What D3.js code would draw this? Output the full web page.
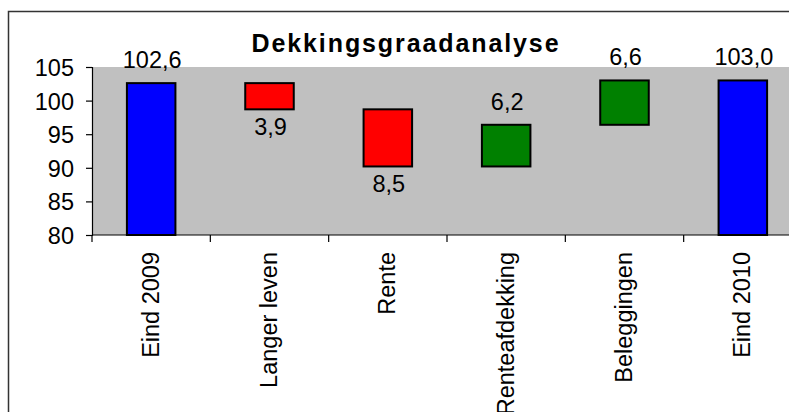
<!DOCTYPE html>
<html>
<head>
<meta charset="utf-8">
<script src="https://cdn.jsdelivr.net/npm/d3@7"></script>
<style>
	body { margin: 0; background: #fff; }
	text { font-family: "Liberation Sans", Arial, sans-serif; fill: #000; }
</style>
</head>
<body>
<div class="chart"></div>
<script>
	// chart data
	var categories = ["Eind 2009", "Langer leven", "Rente", "Renteafdekking", "Beleggingen", "Eind 2010"],
		changes = [102.6, -3.9, -8.5, 6.2, 6.6, 103.0],
		kinds = ["total", "delta", "delta", "delta", "delta", "total"],
		yTicks = [80, 85, 90, 95, 100, 105];

	var width = 789,
		height = 412,
		margin = {top: 67, left: 92, bottom: 235, right: 802};

	var fontSize = "23.5px";

	var svg = d3.select(".chart").append("svg")
		.attr("width", width)
		.attr("height", height);

	// build waterfall rows
	var rows = [],
		level = 0;
	for (var i = 0; i < categories.length; i++) {
		var start, end;
		if (kinds[i] == "total") {
			start = 80;
			end = changes[i];
			level = changes[i];
		} else {
			start = level;
			end = level + changes[i];
			level = end;
		}
		rows.push({name: categories[i], kind: kinds[i], value: changes[i], lo: Math.min(start, end), hi: Math.max(start, end)});
	}

	var x = d3.scaleBand()
		.domain(categories)
		.range([margin.left, margin.right])
		.padding(0);

	var y = d3.scaleLinear()
		.domain([80, 105])
		.range([margin.bottom, margin.top]);

	// outer frame
	svg.append("rect")
		.attr("x", 8.5)
		.attr("y", 11.5)
		.attr("width", 820)
		.attr("height", 430)
		.attr("fill", "#fff")
		.attr("stroke", "#333")
		.attr("stroke-width", 1.5);

	// plot area
	svg.append("rect")
		.attr("x", margin.left)
		.attr("y", margin.top)
		.attr("width", margin.right - margin.left)
		.attr("height", margin.bottom - margin.top)
		.attr("fill", "#c0c0c0");

	// title
	svg.append("text")
		.attr("x", 406)
		.attr("y", 51.5)
		.attr("text-anchor", "middle")
		.style("font-size", "25px")
		.style("font-weight", "bold")
		.style("letter-spacing", "1.9px")
		.text("Dekkingsgraadanalyse");

	// bars
	var colorFor = function(d) {
		if (d.kind == "total") return "#0000ff";
		return d.value < 0 ? "#ff0000" : "#008000";
	};
	var barW = x.bandwidth() * 0.41;

	svg.selectAll("rect.bar")
		.data(rows).enter()
		.append("rect")
		.attr("class", "bar")
		.attr("x", function(d) { return x(d.name) + (x.bandwidth() - barW) / 2; })
		.attr("y", function(d) { return y(d.hi); })
		.attr("width", barW)
		.attr("height", function(d) { return y(d.lo) - y(d.hi); })
		.attr("fill", colorFor)
		.attr("stroke", "#000")
		.attr("stroke-width", 2);

	// value labels
	var fmt = function(v) { return Math.abs(v).toFixed(1).replace(".", ","); };
	svg.selectAll("text.val")
		.data(rows).enter()
		.append("text")
		.attr("class", "val")
		.attr("x", function(d) { return x(d.name) + x.bandwidth() / 2 + 1; })
		.attr("y", function(d) {
			if (d.kind == "delta" && d.value < 0) return y(d.lo) + 26;
			return y(d.hi) - 15;
		})
		.attr("text-anchor", "middle")
		.style("font-size", fontSize)
		.text(function(d) { return fmt(d.value); });

	// y axis
	var yAxis = svg.append("g")
		.attr("transform", "translate(" + margin.left + ",0)")
		.call(d3.axisLeft(y).tickValues(yTicks).tickSize(6).tickPadding(12));
	yAxis.selectAll("text").style("font-size", fontSize).attr("dy", "0.36em");
	yAxis.select(".domain").attr("stroke", "#000").attr("stroke-width", 1.2);
	yAxis.selectAll(".tick line").attr("stroke", "#000").attr("stroke-width", 1.2);

	// x axis line and ticks between categories
	var xAxis = svg.append("g");
	xAxis.append("line")
		.attr("x1", margin.left).attr("x2", margin.right)
		.attr("y1", margin.bottom).attr("y2", margin.bottom)
		.attr("stroke", "#000").attr("stroke-width", 1.2);

	var bounds = categories.map(function(c) { return x(c); }).concat([x.range()[1]]);
	xAxis.selectAll("line.tick")
		.data(bounds).enter()
		.append("line")
		.attr("class", "tick")
		.attr("x1", function(d) { return d; }).attr("x2", function(d) { return d; })
		.attr("y1", margin.bottom).attr("y2", margin.bottom + 7)
		.attr("stroke", "#000").attr("stroke-width", 1.2);

	xAxis.selectAll("text")
		.data(categories).enter()
		.append("text")
		.attr("transform", function(d) {
			return "translate(" + (x(d) + x.bandwidth() / 2 - 1) + "," + (margin.bottom + 17) + ") rotate(-90)";
		})
		.attr("text-anchor", "end")
		.attr("dy", "0.36em")
		.style("font-size", fontSize)
		.text(function(d) { return d; });
</script>
</body>
</html>
